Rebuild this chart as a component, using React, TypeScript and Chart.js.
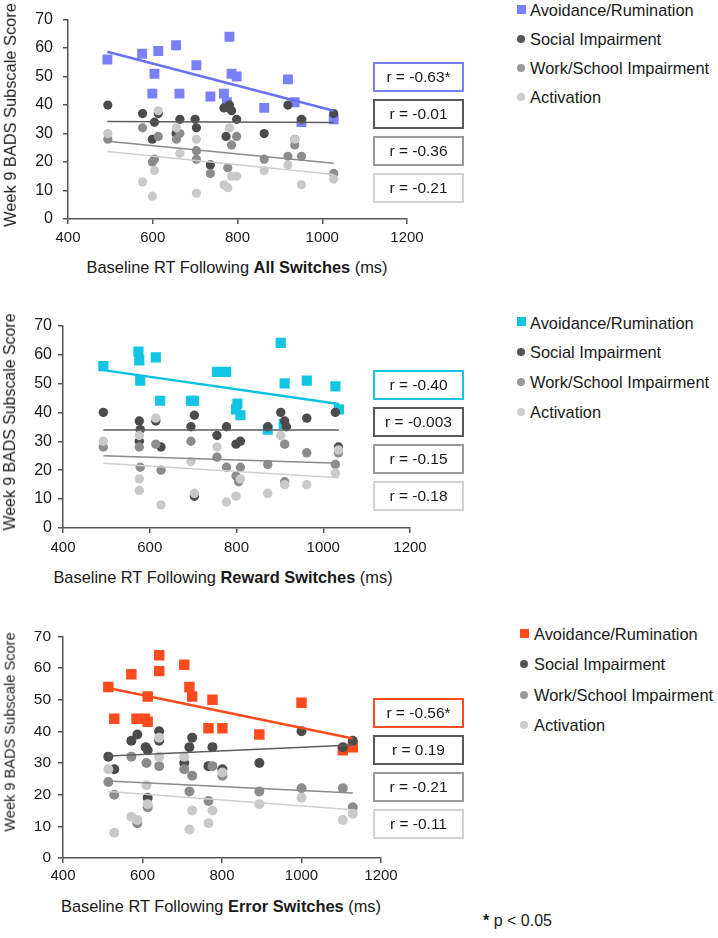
import React, { useEffect, useRef } from "react";
import { Chart, registerables } from "chart.js";

Chart.register(...registerables);

type Pt = [number, number];

const FONT = "'Liberation Sans', Arial, Helvetica, sans-serif";

const xTicks = [400, 600, 800, 1000, 1200];
const yTicks = [0, 10, 20, 30, 40, 50, 60, 70];
const legendLabels = ["Avoidance/Rumination", "Social Impairment", "Work/School Impairment", "Activation"];
const yTitle = "Week 9 BADS Subscale Score";

// ---------- Panel 1: All Switches ----------
const allAvoid: Pt[] = [[493, 56], [575, 58], [613, 59], [604, 51], [599, 44], [655, 61], [663, 44], [703, 54], [736, 43], [768, 44], [781, 64], [786, 51], [798, 50], [775, 41], [863, 39], [919, 49], [935, 41], [951, 34], [1027, 35]];
const allSocial: Pt[] = [[494, 40], [576, 37], [613, 37], [604, 34], [599, 28], [655, 30], [664, 35], [700, 35], [703, 32], [736, 19], [768, 39], [781, 40], [786, 38], [773, 29], [798, 35], [863, 30], [919, 40], [935, 28], [951, 35], [1027, 37]];
const allWork: Pt[] = [[494, 28], [576, 32], [613, 29], [604, 21], [599, 20], [656, 28], [664, 30], [703, 24], [703, 21], [736, 16], [777, 18], [786, 26], [798, 29], [863, 21], [919, 22], [935, 26], [951, 22], [1027, 16]];
const allActiv: Pt[] = [[494, 30], [576, 13], [613, 38], [604, 17], [599, 8], [656, 32], [664, 23], [703, 28], [703, 9], [768, 12], [777, 11], [781, 32], [786, 15], [798, 15], [863, 17], [919, 19], [935, 28], [951, 12], [1027, 14]];
const allTrendX = [493, 1027];
const allTrendAvoid = [58.7, 38.0];
const allTrendSocial = [34.2, 33.9];
const allTrendWork = [27.3, 19.6];
const allTrendActiv = [23.7, 15.6];
const allR = ["r = -0.63*", "r = -0.01", "r = -0.36", "r = -0.21"];

// ---------- Panel 2: Reward Switches ----------
const rewAvoid: Pt[] = [[493, 56], [574, 61], [576, 58], [614, 59], [578, 51], [624, 44], [695, 44], [702, 44], [755, 54], [776, 54], [802, 43], [799, 41], [809, 39], [872, 34], [902, 64], [911, 50], [962, 51], [1028, 49], [1036, 41], [909, 36]];
const rewSocial: Pt[] = [[493, 40], [576, 37], [578, 34], [576, 30], [614, 37], [626, 28], [703, 39], [695, 35], [755, 32], [777, 35], [799, 29], [809, 30], [872, 35], [902, 40], [911, 37], [915, 35], [962, 38], [1028, 40], [1035, 28], [703, 11]];
const rewWork: Pt[] = [[493, 28], [576, 28], [578, 21], [614, 29], [626, 20], [695, 30], [755, 24.5], [777, 21], [799, 18], [809, 21], [805, 16], [872, 22], [911, 29], [911, 16], [962, 26], [1028, 22], [1035, 26]];
const rewActiv: Pt[] = [[493, 30], [576, 32], [576, 17], [576, 13], [614, 38], [626, 8], [695, 23], [703, 12], [755, 28], [777, 9], [799, 11], [809, 17], [872, 12], [902, 32], [911, 15], [962, 15], [1028, 19], [1035, 27]];
const rewTrendX = [493, 1036];
const rewTrendAvoid = [54.6, 42.9];
const rewTrendSocial = [33.9, 33.9];
const rewTrendWork = [25.0, 22.4];
const rewTrendActiv = [22.4, 17.4];
const rewR = ["r = -0.40", "r = -0.003", "r = -0.15", "r = -0.18"];

// ---------- Panel 3: Error Switches ----------
const errAvoid: Pt[] = [[514, 54], [529, 44], [572, 58], [585, 44], [606, 44], [613, 43], [613, 51], [642, 64], [642, 59], [705, 61], [718, 54], [725, 51], [766, 41], [776, 50], [801, 41], [894, 39], [1000, 49], [1104, 34], [1129, 35]];
const errSocial: Pt[] = [[514, 32], [529, 28], [572, 37], [587, 39], [608, 35], [613, 34], [613, 19], [642, 40], [642, 37], [705, 30], [718, 35], [725, 38], [766, 29], [776, 35], [801, 28], [894, 30], [1000, 40], [1104, 35], [1129, 37]];
const errWork: Pt[] = [[514, 24], [529, 20], [572, 32], [587, 11], [610, 30], [613, 16], [642, 29], [705, 28], [718, 21], [725, 26], [766, 18], [776, 29], [801, 26], [894, 21], [1000, 22], [1104, 22], [1129, 16]];
const errActiv: Pt[] = [[514, 28], [529, 8], [572, 13], [587, 12], [610, 23], [613, 17], [642, 32], [642, 38], [705, 32], [718, 9], [725, 15], [766, 11], [776, 15], [801, 27], [894, 17], [1000, 19], [1104, 12], [1129, 14]];
const errTrendX = [514, 1129];
const errTrendAvoid = [53.7, 37.7];
const errTrendSocial = [32.2, 35.7];
const errTrendWork = [24.3, 20.5];
const errTrendActiv = [21.0, 15.2];
const errR = ["r = -0.56*", "r = 0.19", "r = -0.21", "r = -0.11"];

const DARK = "#4b4b4b";
const MID = "#8c8c8c";
const LIGHT = "#c9c9c9";
const LINE_DARK = "#5e5e5e";
const LINE_MID = "#8a8a8a";
const LINE_LIGHT = "#cfcfcf";

interface PanelCfg {
  avoid: Pt[]; social: Pt[]; work: Pt[]; activ: Pt[];
  trendX: number[]; tAvoid: number[]; tSocial: number[]; tWork: number[]; tActiv: number[];
  rLabels: string[];
  color: string; lineColor: string;
  boldText: string;
  canvasTop: number; areaTop: number; areaBottom: number; areaLeft: number; areaRight: number;
  yPad: number; xPad: number; yFont: number;
  rectR: number; circR: number;
  yTitleY: number; yTitleSize: number;
  xTitleX: number; xTitleY: number;
  legendX: number; legendMarkX: number; legendYs: number[];
  boxTops: number[];
}

const panels: PanelCfg[] = [
  {
    avoid: allAvoid, social: allSocial, work: allWork, activ: allActiv,
    trendX: allTrendX, tAvoid: allTrendAvoid, tSocial: allTrendSocial, tWork: allTrendWork, tActiv: allTrendActiv,
    rLabels: allR, color: "#7a80f8", lineColor: "#6a71f3", boldText: "All Switches",
    canvasTop: 0, areaTop: 10, areaBottom: 219, areaLeft: 68, areaRight: 407,
    yPad: 10, xPad: 5, yFont: 16, rectR: 7, circR: 4.6,
    yTitleY: 115, yTitleSize: 16.4, xTitleX: 237, xTitleY: 267,
    legendX: 530, legendMarkX: 521, legendYs: [10, 39.3, 68.3, 97.3],
    boxTops: [62, 99, 136, 173],
  },
  {
    avoid: rewAvoid, social: rewSocial, work: rewWork, activ: rewActiv,
    trendX: rewTrendX, tAvoid: rewTrendAvoid, tSocial: rewTrendSocial, tWork: rewTrendWork, tActiv: rewTrendActiv,
    rLabels: rewR, color: "#12c5e3", lineColor: "#08c2e2", boldText: "Reward Switches",
    canvasTop: 310, areaTop: 324, areaBottom: 528, areaLeft: 63, areaRight: 410,
    yPad: 6, xPad: 6, yFont: 16, rectR: 7.2, circR: 4.7,
    yTitleY: 422, yTitleSize: 15.9, xTitleX: 223, xTitleY: 577,
    legendX: 530, legendMarkX: 521, legendYs: [322.7, 352, 381.7, 411.7],
    boxTops: [370, 407, 444, 481],
  },
  {
    avoid: errAvoid, social: errSocial, work: errWork, activ: errActiv,
    trendX: errTrendX, tAvoid: errTrendAvoid, tSocial: errTrendSocial, tWork: errTrendWork, tActiv: errTrendActiv,
    rLabels: errR, color: "#ff4b1e", lineColor: "#ff4b1e", boldText: "Error Switches",
    canvasTop: 620, areaTop: 635, areaBottom: 858, areaLeft: 63, areaRight: 381,
    yPad: 7, xPad: 4, yFont: 15.5, rectR: 7.4, circR: 5,
    yTitleY: 732, yTitleSize: 14.6, xTitleX: 221, xTitleY: 906,
    legendX: 534, legendMarkX: 524, legendYs: [634, 664, 695, 725],
    boxTops: [698, 735, 772, 809],
  },
];

const toXY = (pts: Pt[]) => pts.map(([x, y]) => ({ x, y }));
const trendXY = (xs: number[], ys: number[]) => xs.map((x, i) => ({ x, y: ys[i] }));

function Panel({ p }: { p: PanelCfg }) {
  const ref = useRef<HTMLCanvasElement>(null);
  const width = p.areaRight + 25;
  const height = p.areaBottom - p.canvasTop + 30;

  useEffect(() => {
    if (!ref.current) return;
    const pointDs = (label: string, data: Pt[], color: string, style: any, r: number, order: number) => ({
      type: "scatter" as const,
      label,
      data: toXY(data),
      backgroundColor: color,
      borderColor: color,
      borderWidth: 0,
      pointStyle: style,
      pointRadius: r,
      pointHoverRadius: r,
      order,
    });
    const lineDs = (label: string, ys: number[], color: string, w: number) => ({
      type: "line" as const,
      label,
      data: trendXY(p.trendX, ys),
      borderColor: color,
      borderWidth: w,
      pointRadius: 0,
      showLine: true,
      fill: false,
      order: 0,
    });
    const chart = new Chart(ref.current, {
      type: "scatter",
      data: {
        datasets: [
          lineDs("t-avoid", p.tAvoid, p.lineColor, 2.5),
          lineDs("t-social", p.tSocial, LINE_DARK, 1.5),
          lineDs("t-work", p.tWork, LINE_MID, 1.5),
          lineDs("t-activ", p.tActiv, LINE_LIGHT, 1.5),
          pointDs(legendLabels[3], p.activ, LIGHT, "circle", p.circR, 1),
          pointDs(legendLabels[2], p.work, MID, "circle", p.circR, 2),
          pointDs(legendLabels[1], p.social, DARK, "circle", p.circR, 3),
          pointDs(legendLabels[0], p.avoid, p.color, "rect", p.rectR, 4),
        ] as any,
      },
      options: {
        responsive: false,
        animation: false,
        devicePixelRatio: 1,
        layout: { padding: { left: 0, top: p.areaTop - p.canvasTop, right: 25, bottom: 0 } },
        plugins: { legend: { display: false }, tooltip: { enabled: false } },
        scales: {
          x: {
            type: "linear",
            min: 400,
            max: 1200,
            afterBuildTicks: (s: any) => { s.ticks = xTicks.map((v) => ({ value: v })); },
            afterFit: (s: any) => { s.height = 30; },
            grid: { display: true, drawOnChartArea: false, drawTicks: true, tickLength: 5, color: "#555", lineWidth: 1.5 },
            border: { display: true, color: "#555", width: 1.5 },
            ticks: {
              font: { family: FONT, size: 15 }, color: "#1a1a1a", padding: p.xPad, maxRotation: 0, autoSkip: false,
              callback: (v: any) => String(v),
            },
          },
          y: {
            type: "linear",
            min: 0,
            max: 70,
            afterBuildTicks: (s: any) => { s.ticks = yTicks.map((v) => ({ value: v })); },
            afterFit: (s: any) => { s.width = p.areaLeft; },
            grid: { display: true, drawOnChartArea: false, drawTicks: true, tickLength: 5, color: "#555", lineWidth: 1.5 },
            border: { display: true, color: "#555", width: 1.5 },
            ticks: {
              font: { family: FONT, size: p.yFont }, color: "#1a1a1a", padding: p.yPad, autoSkip: false,
              callback: (v: any) => String(v),
            },
          },
        },
      } as any,
    });
    return () => chart.destroy();
  }, []);

  const boxColors = [p.color, "#5a5a5a", "#9a9a9a", "#d2d2d2"];
  const markColors = [p.color, "#555", "#999", "#cdcdcd"];
  const xTitleParts = ["Baseline RT Following ", p.boldText, " (ms)"];

  return (
    <>
      <canvas
        ref={ref}
        width={width}
        height={height}
        style={{ position: "absolute", left: 0, top: p.canvasTop, width, height }}
      />
      <div
        style={{
          position: "absolute", left: 10, top: p.yTitleY, transform: "translate(-50%, -50%) rotate(-90deg)",
          whiteSpace: "nowrap", fontFamily: FONT, fontSize: p.yTitleSize, color: "#1a1a1a", lineHeight: 1,
        }}
      >
        {yTitle}
      </div>
      <div
        style={{
          position: "absolute", left: p.xTitleX, top: p.xTitleY, transform: "translate(-50%, -50%)",
          whiteSpace: "nowrap", fontFamily: FONT, fontSize: 16.4, color: "#1a1a1a", lineHeight: 1,
        }}
      >
        {xTitleParts[0]}<b>{xTitleParts[1]}</b>{xTitleParts[2]}
      </div>
      {legendLabels.map((lab, i) => (
        <React.Fragment key={lab}>
          <div
            style={{
              position: "absolute",
              left: p.legendMarkX - (i === 0 ? 4.5 : 4),
              top: p.legendYs[i] - (i === 0 ? 5.5 : 4),
              width: i === 0 ? 9 : 8,
              height: i === 0 ? 9 : 8,
              borderRadius: i === 0 ? 0 : "50%",
              background: markColors[i],
            }}
          />
          <div
            style={{
              position: "absolute", left: p.legendX, top: p.legendYs[i], transform: "translateY(-50%)",
              whiteSpace: "nowrap", fontFamily: FONT, fontSize: 16.4, color: "#1a1a1a", lineHeight: 1,
            }}
          >
            {lab}
          </div>
        </React.Fragment>
      ))}
      {p.rLabels.map((r, i) => (
        <div
          key={r + i}
          style={{
            position: "absolute", left: 373, top: p.boxTops[i], width: 91, height: 29.5, boxSizing: "border-box",
            border: `2px solid ${boxColors[i]}`, display: "flex", alignItems: "center", justifyContent: "center",
            fontFamily: FONT, fontSize: 15.5, color: "#1a1a1a", whiteSpace: "nowrap",
          }}
        >
          {r}
        </div>
      ))}
    </>
  );
}

export default function App() {
  return (
    <div style={{ position: "absolute", left: 0, top: 0, width: 718, height: 938, background: "#fff", overflow: "hidden" }}>
      {panels.map((p, i) => (
        <Panel key={i} p={p} />
      ))}
      <div
        style={{
          position: "absolute", left: 483, top: 921, transform: "translateY(-50%)",
          whiteSpace: "nowrap", fontFamily: FONT, fontSize: 16, color: "#1a1a1a", lineHeight: 1,
        }}
      >
        <b>*</b> p &lt; 0.05
      </div>
    </div>
  );
}
